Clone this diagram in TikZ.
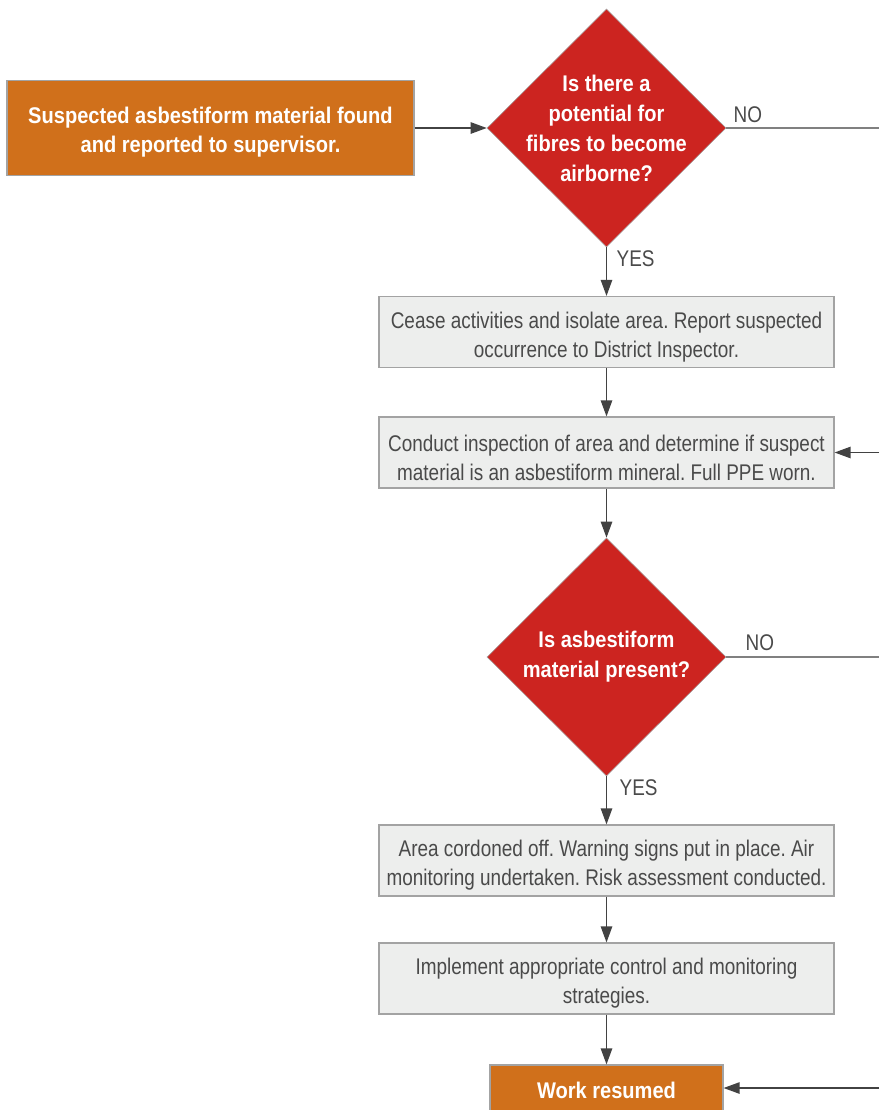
\documentclass[tikz,border=0pt]{standalone}
\usepackage{fontspec}
\setmainfont{Liberation Sans}[FakeStretch=0.835, BoldFeatures={FakeStretch=0.885}]
\usetikzlibrary{shapes.geometric,arrows.meta}

\definecolor{rust}{HTML}{D0701B}
\definecolor{alarm}{HTML}{CC2420}
\definecolor{paper}{HTML}{EDEEED}
\definecolor{rim}{HTML}{A3A3A3}
\definecolor{ink}{HTML}{4A4A4A}
\definecolor{wire}{HTML}{424242}

% pushes the first line of a box a little lower
\newcommand{\dropline}[1][20pt]{\rule{0pt}{#1}}

\tikzset{
  txt/.style = {font = \fontsize{17}{21.75}\selectfont, align = center},
  stepbox/.style = {txt, draw = rim, thick, fill = paper, text = ink,
    minimum width = 455*0.75pt, minimum height = 71*0.75pt, inner sep = 0pt},
  endbox/.style = {txt, draw = rim, thick, fill = rust, text = white, font = \fontsize{17}{21.75}\selectfont\bfseries,
    inner sep = 0pt},
  decision/.style = {diamond, draw = rim, fill = alarm, inner sep = 0pt,
    minimum width = 239*0.75pt, minimum height = 238*0.75pt},
  qtext/.style = {txt, text = white, font = \fontsize{17}{22.5}\selectfont\bfseries},
  answer/.style = {txt, text = ink, anchor = west},
  flow/.style = {line width = 1.1pt, color = wire, -{Triangle[length = 12pt, width = 8.5pt]}},
  plain/.style = {line width = 1.1pt, color = gray}
}

\begin{document}
\frenchspacing
\begin{tikzpicture}[x = 0.75pt, y = -0.75pt]
\useasboundingbox (0, 0) rectangle (879, 1110);
%\draw[very thin, color = gray](0, 0) grid[step = 100] (879, 1110);

% start and decision 1
\node [endbox, minimum width = 407*0.75pt, minimum height = 95*0.75pt] (start) at (210.5, 128) {\dropline[19pt]Suspected asbestiform material found\\and reported to supervisor.};
\node [decision, label = {[qtext]center:Is there a\\potential for\\fibres to become\\airborne?}] (airborne) at (606.5, 128) {};
\coordinate (noAirborne) at (879, 128);

% steps
\node [stepbox] (cease) at (606.5, 332) {\dropline Cease activities and isolate area. Report suspected\\occurrence to District Inspector.};
\node [stepbox] (inspect) at (606.5, 452.5) {\dropline Conduct inspection of area and determine if suspect\\material is an asbestiform mineral. Full PPE worn.};
\coordinate (backInspect) at (879, 452.5);

% decision 2
\node [decision, label = {[qtext]center:Is asbestiform\\material present?}] (present) at (606.5, 657) {};
\coordinate (noPresent) at (879, 657);

\node [stepbox] (cordon) at (606.5, 860.5) {\dropline Area cordoned off. Warning signs put in place. Air\\monitoring undertaken. Risk assessment conducted.};
\node [stepbox] (control) at (606.5, 978.5) {\dropline Implement appropriate control and monitoring\\strategies.};
\node [endbox, minimum width = 233*0.75pt, minimum height = 46*0.75pt] (resume) at (606.5, 1088) {\dropline[16pt]Work resumed};
\coordinate (backResume) at (879, 1088);

% answers
\node [answer] at (729, 115) {NO};
\node [answer] at (741, 643) {NO};
\node [answer] at (612, 259) {YES};
\node [answer] at (615, 788) {YES};

% connectors
\draw [flow] (start) -- (airborne);
\draw [plain] (airborne.east) -- (noAirborne);
\draw [flow] (airborne) -- (cease);
\draw [flow] (cease) -- (inspect);
\draw [flow] (backInspect) -- (inspect);
\draw [flow] (inspect) -- (present);
\draw [plain] (present.east) -- (noPresent);
\draw [flow] (present) -- (cordon);
\draw [flow] (cordon) -- (control);
\draw [flow] (control) -- (resume);
\draw [flow] (backResume) -- (resume);
\end{tikzpicture}
\end{document}
